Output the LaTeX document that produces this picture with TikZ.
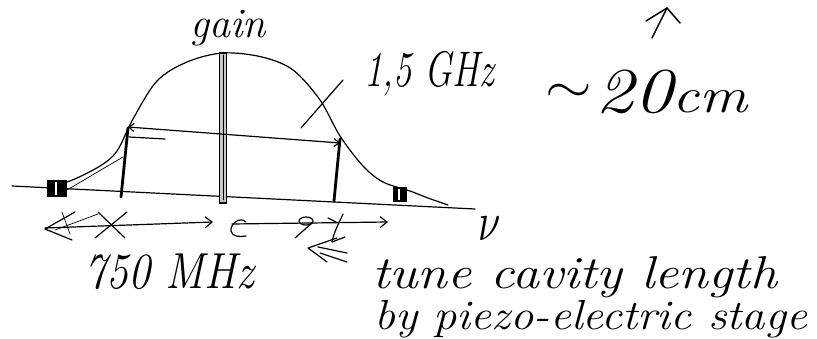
\documentclass[tikz,border=0pt]{standalone}
\usetikzlibrary{arrows.meta}
\begin{document}
\begin{tikzpicture}[x=1pt,y=-1pt,
  ink/.style={line width=1.2pt, line cap=round, line join=round},
  thin ink/.style={line width=0.7pt, line cap=round},
  barline/.style={line width=2.8pt, line cap=round},
  barb/.style={-{Straight Barb[length=7pt,width=11pt]}},
  hand/.style={inner sep=0pt, font=\itshape}]
\useasboundingbox (0,0) rectangle (817,339);

% axis (frequency) baseline
\coordinate (bl) at (12,186);
\coordinate (br) at (475,209);
\draw[ink] (bl) -- (br);

% gain curve
\draw[ink] plot[smooth, tension=0.55] coordinates {(48,186) (70,181) (100,166) (117,151) (133,119) (157,81) (187,62) (223,53) (262,57) (293,70) (320,100) (340,136) (363,166) (383,182) (410,191) (428,198) (448,205)};
\draw[thin ink] (123,157) -- (67,190);

% tail blocks
\fill (47,180) rectangle (67,197);
\fill[white] (55,182) rectangle (57,195);
\fill (393,187) rectangle (407,202);
\fill[white] (398,189) rectangle (400,200);

% mode lines
\draw[barline] (128,128) -- (121,197);
\draw[barline] (340,139) -- (334,201);
\draw[line width=1.3pt, fill=gray!45] (219.5,53) rectangle (226.5,203);
\draw[thin ink] (223,55) -- (223,200);

% FWHM arrow
\coordinate (hl) at (128,127);
\coordinate (hr) at (340,143);
\draw[ink, {Straight Barb[length=5pt,width=8pt]}-{Straight Barb[length=5pt,width=8pt]}] (hl) -- (hr);
\draw[ink] (129,137) -- (165,139);

% labels
\node[hand, anchor=base, font=\itshape\fontsize{42}{46}\selectfont] (gain) at (228,38) {gain};
\node[hand, anchor=base west, font=\itshape\fontsize{40}{44}\selectfont] (fwhm) at (364,87) {\scalebox{0.92}[1.25]{1,5 GHz}};
\coordinate (ld) at (343,80);
\coordinate (lc) at (301,128);
\draw[ink] (ld) -- (lc);

\node[hand, anchor=base west] (cav) at (545,113) {\raisebox{10pt}{\scalebox{6}[5]{$\sim$}}\hspace{4pt}\fontsize{64}{68}\selectfont\scalebox{1.2}[1]{20}\fontsize{50}{54}\selectfont\scalebox{1.2}[1]{cm}};
\coordinate (ua1) at (652,38);
\coordinate (ua2) at (667,8);
\coordinate (uw1) at (646,21);
\coordinate (uw2) at (680,23);
\draw[ink, line width=1.5pt] (ua1) -- (ua2);
\draw[ink, line width=1.5pt] (uw1) -- (ua2) -- (uw2);

\node[hand, anchor=center] (nu) at (490,229) {\scalebox{4}[5.5]{$\nu$}};

% mode spacing arrows
\coordinate (a1) at (45,228);
\coordinate (a2) at (213,222);
\draw[ink, barb] (a1) -- (a2);
\draw[ink] (75,212) -- (45,229) -- (72,240);
\draw[thin ink] (62,212) -- (70,234);
\draw[thin ink] (55,230) -- (98,214);
\draw[ink] (98,212) -- (125,238);
\draw[ink] (95,238) -- (127,212);

\coordinate (b1) at (232,224);
\coordinate (b2) at (388,222);
\draw[ink, barb] (b1) -- (b2);
\draw[ink] (246,222) .. controls (240,216) and (230,224) .. (231,231) .. controls (232,237) and (240,237) .. (246,236);
\draw[ink] (306,221) ellipse (7 and 4);
\draw[ink] (312,223) -- (295,238);
\draw[ink] (343,214) .. controls (338,225) and (334,232) .. (332,242);
\draw[ink] (328,218) -- (336,222);
\draw[ink] (332,242) -- (345,237);

% left double arrow (tuning)
\coordinate (dt) at (308,248);
\draw[ink] (337,238) -- (dt) -- (327,262);
\draw[ink] (318,247) -- (347,253);
\draw[ink] (320,253) -- (347,262);

\node[hand, anchor=base west, font=\itshape\fontsize{44}{48}\selectfont] (spacing) at (84,288) {\scalebox{1}[1.15]{750 MHz}};
\node[hand, anchor=base west, font=\itshape\fontsize{46}{50}\selectfont] (tune) at (372,289) {\scalebox{1.17}[1]{tune cavity length}};
\node[hand, anchor=base west, font=\itshape\fontsize{42}{48}\selectfont] (piezo) at (374,330) {\scalebox{1.11}[1]{by piezo-electric stage}};
\end{tikzpicture}
\end{document}
